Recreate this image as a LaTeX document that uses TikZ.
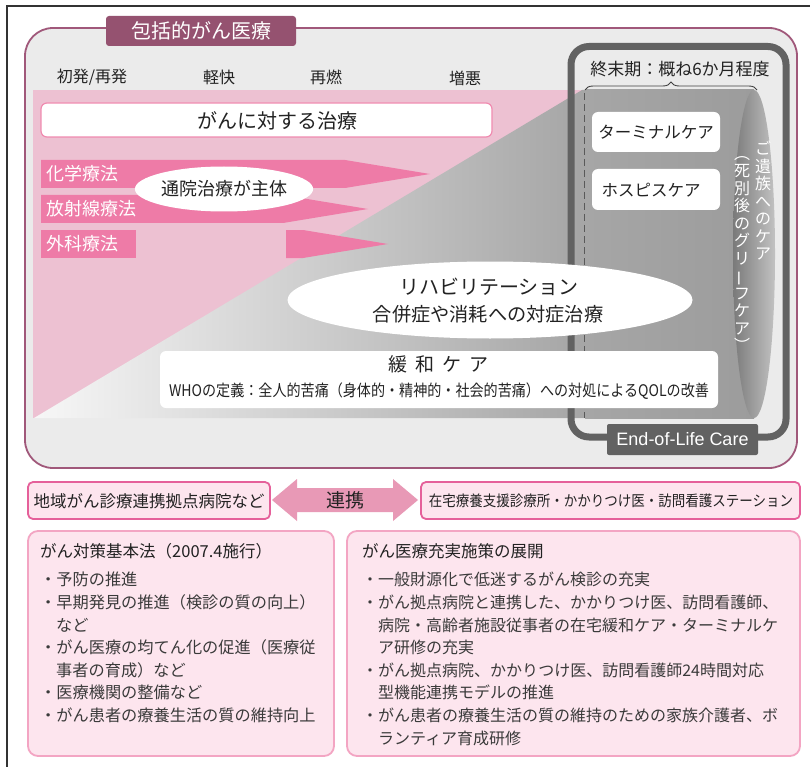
\documentclass[tikz,border=0pt]{standalone}
\usepackage{fontspec}
\usepackage{graphicx}
\setmainfont{Noto Sans CJK JP}
\newfontfamily\lsans{Liberation Sans}
\usetikzlibrary{shapes.geometric,decorations.pathreplacing}
\newcommand\fsz[1]{\fontsize{#1}{#1}\selectfont}
\definecolor{mauve}{HTML}{A0587A}
\definecolor{tabfill}{HTML}{955270}
\definecolor{biggray}{HTML}{EBEBEB}
\definecolor{pinkbg}{HTML}{EDC1D2}
\definecolor{pinkarrow}{HTML}{EE7BA7}
\definecolor{pinkborder}{HTML}{F08BB0}
\definecolor{boxborder}{HTML}{E5609A}
\definecolor{boxfill}{HTML}{FDE5EE}
\definecolor{lowborder}{HTML}{F3A5C3}
\definecolor{linkarrow}{HTML}{E899B6}
\definecolor{eolgray}{HTML}{626262}
\definecolor{txt}{HTML}{222222}
\definecolor{txtlow}{HTML}{3A3A3A}
\definecolor{gA}{HTML}{F7F7F7}
\definecolor{gB}{HTML}{A3A3A3}
\definecolor{cylA}{HTML}{A6A6A6}
\definecolor{cylB}{HTML}{9C9C9C}
\definecolor{capA}{HTML}{7A7A7A}
\definecolor{capB}{HTML}{C2C2C2}
\definecolor{capC}{HTML}{969696}
\tikzset{
  lbl/.style={inner sep=0, text=txt, font=\fsz{16}},
  armlbl/.style={inner sep=0, text=white, font=\fsz{18}, anchor=west},
  item/.style={inner sep=0, text=txtlow, font=\fsz{16.2}, anchor=west},
  itemtitle/.style={inner sep=0, text=txt, font=\fsz{16.5}, anchor=west},
  vtext/.style={inner sep=0, text=white, align=center, font={\fontsize{16}{17.5}\selectfont}},
  whitebox/.style={fill=white, rounded corners=6},
  linkbox/.style={draw=boxborder, fill=boxfill, line width=1.8, rounded corners=5},
  lowbox/.style={draw=lowborder, fill=boxfill, line width=1.8, rounded corners=10},
}
\newcommand\vbar{\rotatebox[origin=c]{90}{ー}}
\begin{document}
\begin{tikzpicture}[x=1pt,y=-1pt]
\useasboundingbox (0,0) rectangle (810,767);
\fill[white] (0,0) rectangle (810,767);
% outer frame
\draw[line width=1.3, black!80] (7,767) -- (7,6) -- (810,6);

% big rounded rect
\draw[line width=1.8, mauve, fill=biggray, rounded corners=28] (25,28) rectangle (797,468);
\node[fill=tabfill, rounded corners=3, minimum width=190, minimum height=30, inner sep=0,
      text=white, font=\fsz{20}] (title) at (201,31) {包括的がん医療};

% stage labels
\node[lbl] (s1) at (92,77) {初発/再発};
\node[lbl] (s2) at (219,77) {軽快};
\node[lbl] (s3) at (326,77) {再燃};
\node[lbl] (s4) at (465,78) {増悪};

% pink area and gray gradient
\fill[pinkbg] (33,90) rectangle (585,418);
\begin{scope}
  \clip (34,418) -- (582,90) -- (760,90) -- (760,418) -- cycle;
  \shade[left color=gA, right color=gB] (33,90) rectangle (600,418);
\end{scope}

% cylinder
\shade[left color=cylA, right color=cylB] (585,90) rectangle (754,418);
\shade[left color=capA, middle color=capC, right color=capB] (754,254) ellipse [x radius=21, y radius=164];
\draw[dashed, dash pattern=on 7pt off 4pt, line width=0.9, black!65] (584,93) -- (584,418);
\draw[decorate, decoration={brace, amplitude=8pt}, line width=0.9, black!75] (585,90) -- (757,90);

% end-of-life frame
\draw[eolgray, line width=7, rounded corners=18] (571,46.5) rectangle (786,437);
\node[fill=eolgray, rounded corners=2, minimum width=151, minimum height=31, inner sep=0,
      text=white, font={\lsans\fontsize{18}{18}\selectfont}] (eol) at (682.5,439.5) {End-of-Life Care};
\node[lbl, font=\fsz{17}] (term) at (680,69) {終末期：概ね6か月程度};

\fill[whitebox] (592,112) rectangle (720,152);
\node[lbl, font=\fsz{16.5}] (tc) at (656,132) {ターミナルケア};
\fill[whitebox] (592,169) rectangle (720,210);
\node[lbl, font=\fsz{16.5}] (hc) at (651,190) {ホスピスケア};

\node[vtext] (v1) at (763,201) {ご\\遺\\族\\へ\\の\\ケ\\ア};
\node[vtext] (v2) at (742,254) {︵\\死\\別\\後\\の\\グ\\リ\\\vbar\\フ\\ケ\\ア\\︶};

% treatment box
\draw[pinkborder, fill=white, rounded corners=6, line width=1.2] (41,103) rectangle (492,137);
\node[lbl, font=\fsz{20}] (tr) at (277,121) {がんに対する治療};

% pink arrows
\fill[pinkarrow] (41,160) -- (345,160) -- (430,174) -- (345,188) -- (41,188) -- cycle;
\node[armlbl] (chem) at (46,174) {化学療法};
\fill[pinkarrow] (41,195) -- (283,195) -- (368,209) -- (283,223) -- (41,223) -- cycle;
\node[armlbl] (rad) at (46,209) {放射線療法};
\fill[pinkarrow] (41,230) rectangle (136,258);
\node[armlbl] (surg) at (46,244) {外科療法};
\fill[pinkarrow] (286,230) -- (303,230) -- (388,244) -- (303,258) -- (286,258) -- cycle;

\node[ellipse, fill=white, minimum width=150, minimum height=45, inner sep=0, text=txt,
      font=\fsz{18}] (outp) at (224,189) {通院治療が主体};

% rehab ellipse
\node[ellipse, fill=white, minimum width=405, minimum height=77, inner sep=0] (rehab) at (490,300) {};
\node[lbl, font=\fsz{20}] (rh1) at (489,287) {リハビリテーション};
\node[lbl, font=\fsz{19.2}] (rh2) at (488,314) {合併症や消耗への対症治療};

% palliative care box
\fill[whitebox] (160,351) rectangle (718,408);
\node[lbl, font=\fsz{19}] (pc) at (438,364) {緩\hspace{8pt}和\hspace{8pt}ケ\hspace{8pt}ア};
\node[lbl, font=\fsz{16}] (who) at (439,391) {\scalebox{0.88}[1]{WHOの定義：全人的苦痛（身体的・精神的・社会的苦痛）への対処によるQOLの改善}};

% link row
\draw[linkbox] (28,482) rectangle (270,519);
\node[lbl, font=\fsz{16.5}] (hosp) at (149,501) {地域がん診療連携拠点病院など};
\draw[linkbox] (421,482) rectangle (800,519);
\node[lbl, font=\fsz{15}] (home) at (611,501) {\scalebox{0.9}[1]{在宅療養支援診療所・かかりつけ医・訪問看護ステーション}};
\fill[linkarrow] (272,500) -- (297,479) -- (297,488) -- (393,488) -- (393,479) -- (418,500)
   -- (393,521) -- (393,512) -- (297,512) -- (297,521) -- cycle;
\node[lbl, font=\fsz{19}] (link) at (345,500) {連携};

% lower boxes
\draw[lowbox] (28,531) rectangle (334,756);
\draw[lowbox] (347,531) rectangle (800,756);

\node[itemtitle] (lt) at (40,551) {がん対策基本法（2007.4施行）};
\node[item] (l1) at (40,579) {・予防の推進};
\node[item] (l2) at (40,602) {・早期発見の推進（検診の質の向上）};
\node[item] (l2b) at (56,625) {など};
\node[item] (l3) at (40,647) {・がん医療の均てん化の促進（医療従};
\node[item] (l3b) at (56,670) {事者の育成）など};
\node[item] (l4) at (40,692) {・医療機関の整備など};
\node[item] (l5) at (40,715) {・がん患者の療養生活の質の維持向上};

\node[itemtitle] (rt) at (362,551) {がん医療充実施策の展開};
\node[item, font=\fsz{16}] (r1) at (362,579) {・一般財源化で低迷するがん検診の充実};
\node[item, font=\fsz{16}] (r2) at (362,602) {・がん拠点病院と連携した、かかりつけ医、訪問看護師、};
\node[item, font=\fsz{16}] (r2b) at (378,625) {病院・高齢者施設従事者の在宅緩和ケア・ターミナルケ};
\node[item, font=\fsz{16}] (r2c) at (378,647) {ア研修の充実};
\node[item, font=\fsz{16}] (r3) at (362,670) {・がん拠点病院、かかりつけ医、訪問看護師24時間対応};
\node[item, font=\fsz{16}] (r3b) at (378,692) {型機能連携モデルの推進};
\node[item, font=\fsz{16}] (r4) at (362,715) {・がん患者の療養生活の質の維持のための家族介護者、ボ};
\node[item, font=\fsz{16}] (r4b) at (378,738) {ランティア育成研修};
\end{tikzpicture}
\end{document}
